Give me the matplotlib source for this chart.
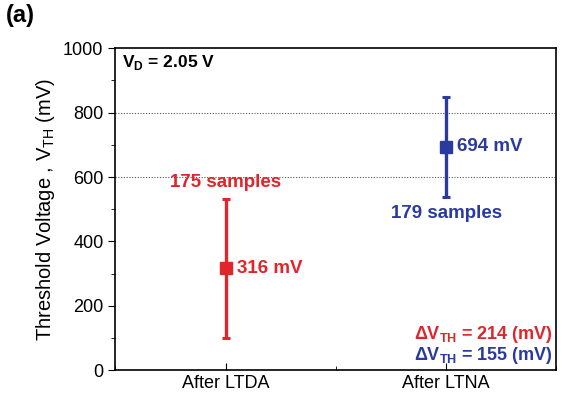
import matplotlib.pyplot as plt
from matplotlib.ticker import MultipleLocator

plt.rcParams['font.family'] = ['Liberation Sans', 'DejaVu Sans']
plt.rcParams['mathtext.fontset'] = 'custom'
plt.rcParams['mathtext.rm'] = 'Liberation Sans'
plt.rcParams['mathtext.bf'] = 'Liberation Sans:bold'

# data
categories = ["After LTDA", "After LTNA"]
means = [316, 694]
v_min = [99, 537]
v_max = [531, 848]
colors = ["#e0252b", "#2b3a9e"]
samples = ["175 samples", "179 samples"]
mean_labels = ["316 mV", "694 mV"]
delta_labels = ["214", "155"]

fig = plt.figure(figsize=(5.62, 4.09), dpi=100)
ax = fig.add_axes([0.205, 0.095, 0.785, 0.787])

pos = [1, 2]
for i in range(2):
    ax.errorbar(pos[i], means[i],
                yerr=[[means[i] - v_min[i]], [v_max[i] - means[i]]],
                fmt="s", color=colors[i], ms=8, elinewidth=2.4,
                capsize=3, capthick=2.2, zorder=3)
    ax.text(pos[i] + 0.05, means[i], mean_labels[i], color=colors[i],
            fontsize=13.5, fontweight="bold", va="center", ha="left")

ax.text(pos[0], v_max[0] + 25, samples[0], color=colors[0], fontsize=13.5,
        fontweight="bold", ha="center", va="bottom")
ax.text(pos[1], v_min[1] - 25, samples[1], color=colors[1], fontsize=13.5,
        fontweight="bold", ha="center", va="top")

for y in [600, 800]:
    ax.axhline(y, color="#555555", linestyle=(0, (1, 1.5)), linewidth=0.8, zorder=1)

ax.text(0.53, 955, r"V$_\mathbf{D}$ = 2.05 V", fontsize=12.5,
        fontweight="bold", ha="left", va="center")

ax.text(2.485, 112, r"$\mathbf{\Delta}$V$_\mathbf{TH}$ = " + delta_labels[0] + " (mV)",
        color=colors[0], fontsize=13, fontweight="bold", ha="right", va="center")
ax.text(2.485, 45, r"$\mathbf{\Delta}$V$_\mathbf{TH}$ = " + delta_labels[1] + " (mV)",
        color=colors[1], fontsize=13, fontweight="bold", ha="right", va="center")

ax.set_xlim(0.5, 2.5)
ax.set_ylim(0, 1000)
ax.set_xticks(pos)
ax.set_xticklabels(categories, fontsize=13)
ax.xaxis.set_minor_locator(MultipleLocator(0.5))
ax.yaxis.set_major_locator(MultipleLocator(200))
ax.yaxis.set_minor_locator(MultipleLocator(100))
ax.tick_params(axis="y", labelsize=13, direction="out", length=5)
ax.tick_params(axis="x", direction="in", length=5)
ax.tick_params(which="minor", length=3)
ax.tick_params(axis="x", which="minor", direction="in")
ax.set_ylabel(r"Threshold Voltage , V$_\mathregular{TH}$ (mV)", fontsize=14.5)
for s in ax.spines.values():
    s.set_linewidth(1.2)

fig.text(0.01, 0.99, "(a)", fontsize=17, fontweight="bold", ha="left", va="top")

fig.savefig("out.png", dpi=100)
